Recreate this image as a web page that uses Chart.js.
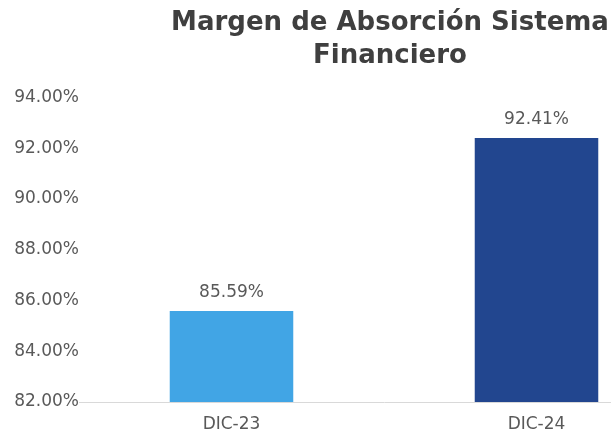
<!DOCTYPE html>
<html>
<head>
<meta charset="utf-8">
<script src="https://cdn.jsdelivr.net/npm/chart.js@4"></script>
<style>
  html, body { margin: 0; padding: 0; background: #ffffff; overflow: hidden; }
  #wrap { width: 780px; height: 436px; }
</style>
</head>
<body>
<div id="wrap"><canvas id="c" width="780" height="436"></canvas></div>
<script>
const titleLines = ['Margen de Absorción Sistema', 'Financiero'];
const categories = ['DIC-23', 'DIC-24'];
const values = [85.59, 92.41];
const barColors = ['#41A5E5', '#22468F'];
const yMin = 82, yMax = 94, yStep = 2;

const FONT = "'DejaVu Sans', sans-serif";

const valueLabels = {
  id: 'valueLabels',
  afterDatasetsDraw(chart) {
    const ctx = chart.ctx;
    const meta = chart.getDatasetMeta(0);
    ctx.save();
    ctx.font = "17px " + FONT;
    ctx.fillStyle = '#595959';
    ctx.textAlign = 'center';
    ctx.textBaseline = 'middle';
    meta.data.forEach((bar, i) => {
      ctx.fillText(values[i].toFixed(2) + '%', bar.x, bar.y - 18);
    });
    ctx.restore();
  }
};

new Chart(document.getElementById('c'), {
  type: 'bar',
  data: {
    labels: categories,
    datasets: [{
      data: values,
      backgroundColor: barColors,
      borderWidth: 0,
      barPercentage: 0.405,
      categoryPercentage: 1.0
    }]
  },
  options: {
    responsive: false,
    animation: false,
    layout: { padding: { top: 6, bottom: 2, left: 0, right: 0 } },
    plugins: {
      legend: { display: false },
      tooltip: { enabled: false },
      title: {
        display: true,
        text: titleLines,
        color: '#3F3F3F',
        font: { family: FONT, size: 26, weight: 'bold', lineHeight: 1.3 },
        padding: { top: 0, bottom: 24 }
      }
    },
    scales: {
      x: {
        grid: { display: false, drawTicks: false },
        border: { display: true, color: '#D9D9D9', width: 1 },
        ticks: { color: '#595959', font: { family: FONT, size: 17 }, padding: 12 },
        afterFit(scale) { scale.height = 32; }
      },
      y: {
        min: yMin, max: yMax,
        grid: { display: false, drawTicks: false },
        border: { display: false },
        ticks: {
          stepSize: yStep,
          color: '#595959',
          font: { family: FONT, size: 17 },
          padding: 0,
          callback: v => v.toFixed(2) + '%'
        },
        afterFit(scale) { scale.width = 79; }
      },
      yR: {
        position: 'right',
        display: true,
        grid: { display: false, drawTicks: false },
        border: { display: false },
        ticks: { display: false },
        afterFit(scale) { scale.width = 91; }
      }
    }
  },
  plugins: [valueLabels]
});
</script>
</body>
</html>
